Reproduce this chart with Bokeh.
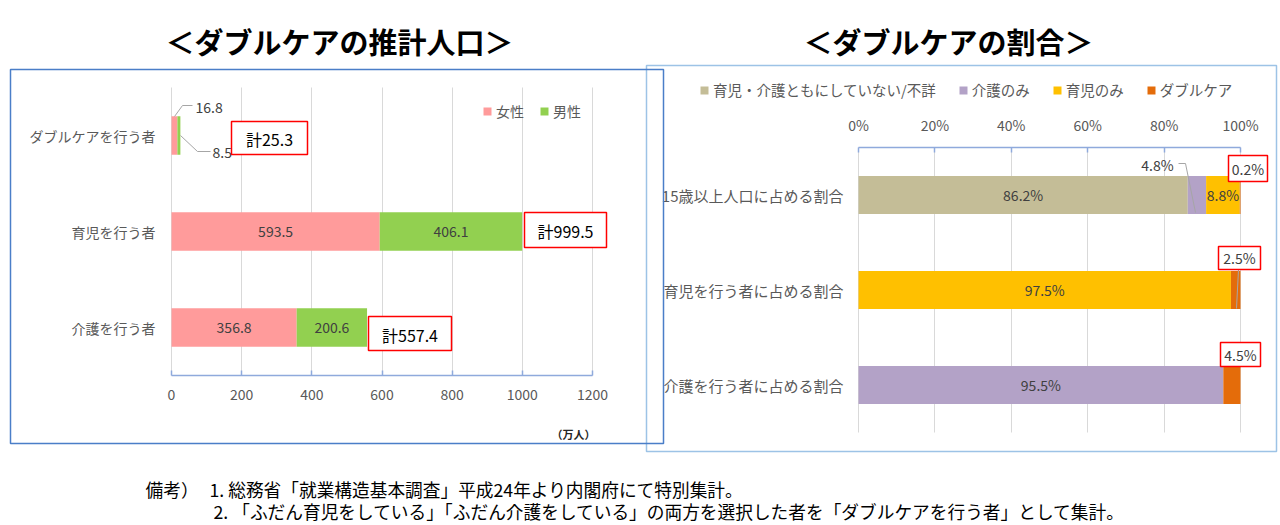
from bokeh.plotting import figure
from bokeh.models import (ColumnDataSource, Range1d, FixedTicker, LinearAxis, Grid,
                          Label, LabelSet, BoxAnnotation, Arrow, Legend, LegendItem)
from bokeh.core.properties import value
from bokeh.embed import file_html
from bokeh.resources import INLINE

JP = "Noto Sans CJK JP"
GRAY = "#595959"
DARK = "#404040"
GRID = "#D9D9D9"
AXIS_BLUE = "#8FAADC"

# ---------------- data: left chart (estimated population, 万人) ----------------
left_categories = ["ダブルケアを行う者", "育児を行う者", "介護を行う者"]
left_series = ["女性", "男性"]
female = [16.8, 593.5, 356.8]
male = [8.5, 406.1, 200.6]
left_totals = [25.3, 999.5, 557.4]
left_colors = ["#FF9B9B", "#92D050"]
left_ticks = [0, 200, 400, 600, 800, 1000, 1200]

# ---------------- data: right chart (share, %) ----------------
right_categories = ["15歳以上人口に占める割合", "育児を行う者に占める割合", "介護を行う者に占める割合"]
right_series = ["育児・介護ともにしていない/不詳", "介護のみ", "育児のみ", "ダブルケア"]
neither = [86.2, 0.0, 0.0]
care_only = [4.8, 0.0, 95.5]
child_only = [8.8, 97.5, 0.0]
double_care = [0.2, 2.5, 4.5]
right_colors = ["#C4BD97", "#B3A2C7", "#FFC000", "#E46C0A"]
right_ticks = [0, 20, 40, 60, 80, 100]

titles = ["＜ダブルケアの推計人口＞", "＜ダブルケアの割合＞"]
unit_label = "（万人）"
notes = ["備考）",
         "1. 総務省「就業構造基本調査」平成24年より内閣府にて特別集計。",
         "2. 「ふだん育児をしている」「ふだん介護をしている」の両方を選択した者を「ダブルケアを行う者」として集計。"]

# ---------------- page geometry (pixels) ----------------
W, H = 1280, 525
LX0, LX1, LY_TOP, LY_BOT = 171, 592, 87, 375     # left plot area
RX0, RX1, RY_TOP, RY_BOT = 858, 1240, 147, 432   # right plot area

p = figure(width=W, height=H, x_range=Range1d(0, W), y_range=Range1d(H, 0),
           x_axis_type=None, y_axis_type=None, toolbar_location=None,
           output_backend="svg", min_border=0)
p.outline_line_color = None
p.background_fill_color = "white"
p.border_fill_color = "white"


def mapped_range(v0, v1, p0, p1, P0, P1):
    k = (p1 - p0) / (v1 - v0)
    return Range1d(start=v0 + (P0 - p0) / k, end=v0 + (P1 - p0) / k)


nL, nR = len(left_categories), len(right_categories)
p.extra_x_ranges = {"lx": mapped_range(left_ticks[0], left_ticks[-1], LX0, LX1, 0, W),
                    "rx": mapped_range(right_ticks[0], right_ticks[-1], RX0, RX1, 0, W)}
p.extra_y_ranges = {"ly": mapped_range(0, nL, LY_BOT, LY_TOP, H, 0),
                    "ry": mapped_range(0, nR, RY_BOT, RY_TOP, H, 0)}


def add_text(x, y, text, size="14px", color=DARK, align="center", style="normal"):
    p.add_layout(Label(x=x, y=y, text=text, text_font=JP, text_font_size=size,
                       text_color=color, text_align=align, text_baseline="middle",
                       text_font_style=style))


def add_rect(l, t, r, b, color, width, fill=None):
    p.add_layout(BoxAnnotation(left=l, right=r, top=t, bottom=b,
                               fill_color=fill if fill else "white",
                               fill_alpha=1.0 if fill else 0.0,
                               line_color=color, line_width=width, line_alpha=1.0))


def add_leader(pts, color="#A6A6A6"):
    for (x0, y0), (x1, y1) in zip(pts[:-1], pts[1:]):
        p.add_layout(Arrow(start=None, end=None, x_start=x0, y_start=y0, x_end=x1, y_end=y1,
                           line_color=color, line_width=1))


def add_vgrid(xr, yr, ticks, n):
    try:
        g = Grid(dimension=0, x_range_name=xr, y_range_name=yr,
                 ticker=FixedTicker(ticks=ticks), cross_bounds=(0, n),
                 grid_line_color=GRID, grid_line_width=1)
        p.add_layout(g)
    except Exception:
        p.segment(x0=ticks, x1=ticks, y0=[0] * len(ticks), y1=[n] * len(ticks),
                  x_range_name=xr, y_range_name=yr, line_color=GRID, line_width=1,
                  level="underlay")


def style_value_axis(ax, ticks):
    ax.bounds = (ticks[0], ticks[-1])
    ax.axis_line_color = AXIS_BLUE
    ax.axis_line_width = 1.5
    ax.major_tick_line_color = AXIS_BLUE
    ax.major_tick_line_width = 1.5
    ax.major_tick_in = 5
    ax.major_tick_out = 0
    ax.minor_tick_line_color = None
    ax.minor_tick_in = 0
    ax.minor_tick_out = 0
    ax.major_label_text_font = JP
    ax.major_label_text_font_size = "14px"
    ax.major_label_text_color = GRAY
    ax.major_label_standoff = 13


def style_cat_axis(ax, size, standoff):
    ax.axis_line_color = None
    ax.major_tick_line_color = None
    ax.major_tick_in = 0
    ax.major_tick_out = 0
    ax.minor_tick_line_color = None
    ax.minor_tick_in = 0
    ax.minor_tick_out = 0
    ax.major_label_text_font = JP
    ax.major_label_text_font_size = size
    ax.major_label_text_color = GRAY
    ax.major_label_standoff = standoff


def style_legend(leg, spacing, size):
    leg.orientation = "horizontal"
    leg.glyph_width = 10
    leg.glyph_height = 10
    leg.label_standoff = 4
    leg.spacing = spacing
    leg.padding = 0
    leg.margin = 0
    leg.border_line_color = None
    leg.background_fill_alpha = 0
    leg.label_text_font = JP
    leg.label_text_font_size = size
    leg.label_text_color = GRAY
    leg.label_height = 10


# ================= left chart =================
left_pos = [nL - i - 0.5 for i in range(nL)]
add_vgrid("lx", "ly", left_ticks, nL)
srcL = ColumnDataSource(dict(pos=left_pos, female=female, male=male))
rL = p.hbar_stack(["female", "male"], y="pos", height=0.4, color=left_colors,
                  line_color=None, source=srcL, x_range_name="lx", y_range_name="ly")

lx, ly, lt = [], [], []
for i in range(nL):
    if female[i] + male[i] > 100:
        lx += [female[i] / 2, female[i] + male[i] / 2]
        ly += [left_pos[i], left_pos[i]]
        lt += [f"{female[i]:.1f}", f"{male[i]:.1f}"]
p.add_layout(LabelSet(x="x", y="y", text="t", source=ColumnDataSource(dict(x=lx, y=ly, t=lt)),
                      x_range_name="lx", y_range_name="ly",
                      text_align="center", text_baseline="middle", text_font=value(JP),
                      text_font_size=value("14px"), text_color=DARK))

axL = LinearAxis(x_range_name="lx", y_range_name="ly", fixed_location=0,
                 ticker=FixedTicker(ticks=left_ticks))
style_value_axis(axL, left_ticks)
p.add_layout(axL, "below")
ayL = LinearAxis(x_range_name="lx", y_range_name="ly", fixed_location=0,
                 ticker=FixedTicker(ticks=left_pos),
                 major_label_overrides={pos: c for pos, c in zip(left_pos, left_categories)})
style_cat_axis(ayL, "14px", 16)
p.add_layout(ayL, "left")

legL = Legend(items=[LegendItem(label=s, renderers=[r]) for s, r in zip(left_series, rL)],
              location=(482, H - 121))
style_legend(legL, 15, "14px")
p.add_layout(legL)

# ================= right chart =================
right_pos = [nR - i - 0.5 for i in range(nR)]
add_vgrid("rx", "ry", right_ticks, nR)
srcR = ColumnDataSource(dict(pos=right_pos, neither=neither, care=care_only,
                             child=child_only, double=double_care))
keys = ["neither", "care", "child", "double"]
rR = p.hbar_stack(keys, y="pos", height=0.4, color=right_colors, line_color=None,
                  source=srcR, x_range_name="rx", y_range_name="ry")

rows = list(zip(neither, care_only, child_only, double_care))
rx, ry, rt = [], [], []
for i in range(nR):
    cum = 0.0
    for v in rows[i]:
        if v >= 5:
            rx.append(cum + v / 2)
            ry.append(right_pos[i])
            rt.append(f"{v:.1f}%")
        cum += v
p.add_layout(LabelSet(x="x", y="y", text="t", source=ColumnDataSource(dict(x=rx, y=ry, t=rt)),
                      x_range_name="rx", y_range_name="ry",
                      text_align="center", text_baseline="middle", text_font=value(JP),
                      text_font_size=value("14px"), text_color=DARK))

axR = LinearAxis(x_range_name="rx", y_range_name="ry", fixed_location=nR,
                 ticker=FixedTicker(ticks=right_ticks),
                 major_label_overrides={t: f"{t}%" for t in right_ticks})
style_value_axis(axR, right_ticks)
p.add_layout(axR, "above")
ayR = LinearAxis(x_range_name="rx", y_range_name="ry", fixed_location=0,
                 ticker=FixedTicker(ticks=right_pos),
                 major_label_overrides={pos: c for pos, c in zip(right_pos, right_categories)})
style_cat_axis(ayR, "15px", 15)
p.add_layout(ayR, "left")

legR = Legend(items=[LegendItem(label=s, renderers=[r]) for s, r in zip(right_series, rR)],
              location=(699, H - 100))
style_legend(legR, 22, "14.5px")
p.add_layout(legR)

# ================= frames, titles, annotations =================
add_rect(646, 65, 1276, 451, "#9DC3E6", 1.5)
add_rect(10, 69, 663, 443, "#4A7EC8", 1.5)
add_text(339, 40, titles[0], size="29px", color="#000000", style="bold")
add_text(948, 40, titles[1], size="29px", color="#000000", style="bold")
add_text(573, 433, unit_label, size="11px", color="#262626", style="bold")

# double-care values with leader lines (left)
add_leader([(192, 105), (182, 105), (174, 116)])
add_text(195, 107, f"{female[0]:.1f}", align="left")
add_leader([(180, 135), (197, 151), (210, 151)])
add_text(212, 152, f"{male[0]:.1f}", align="left")

# totals in red boxes (left)
tot_boxes = [(231, 121, 307, 154), (524, 212, 606, 247), (368, 316, 451, 350)]
for tv, (l, t, r, b) in zip(left_totals, tot_boxes):
    add_rect(l, t, r, b, "#FF0000", 1.5, fill="white")
    add_text((l + r) / 2, (t + b) / 2 + 1, f"計{tv:.1f}", size="16px", color="#000000")

# small shares (right)
add_leader([(1178, 163), (1185, 163), (1195, 212)])
add_text(1157, 164, f"{care_only[0]:.1f}%")
pct_boxes = [(1228, 155, 1267, 181), (1218, 246, 1260, 269), (1220, 342, 1260, 366)]
add_leader([(1238, 269), (1236, 308)])
for v, (l, t, r, b) in zip(double_care, pct_boxes):
    add_rect(l, t, r, b, "#FF0000", 1.5, fill="white")
    add_text((l + r) / 2, (t + b) / 2, f"{v:.1f}%")

# footnote
add_text(145, 488, notes[0], size="17.7px", color="#000000", align="left")
add_text(209, 488, notes[1], size="17.7px", color="#000000", align="left")
add_text(213, 510, notes[2], size="17.7px", color="#000000", align="left")

open("out.html", "w").write(file_html(p, INLINE))
